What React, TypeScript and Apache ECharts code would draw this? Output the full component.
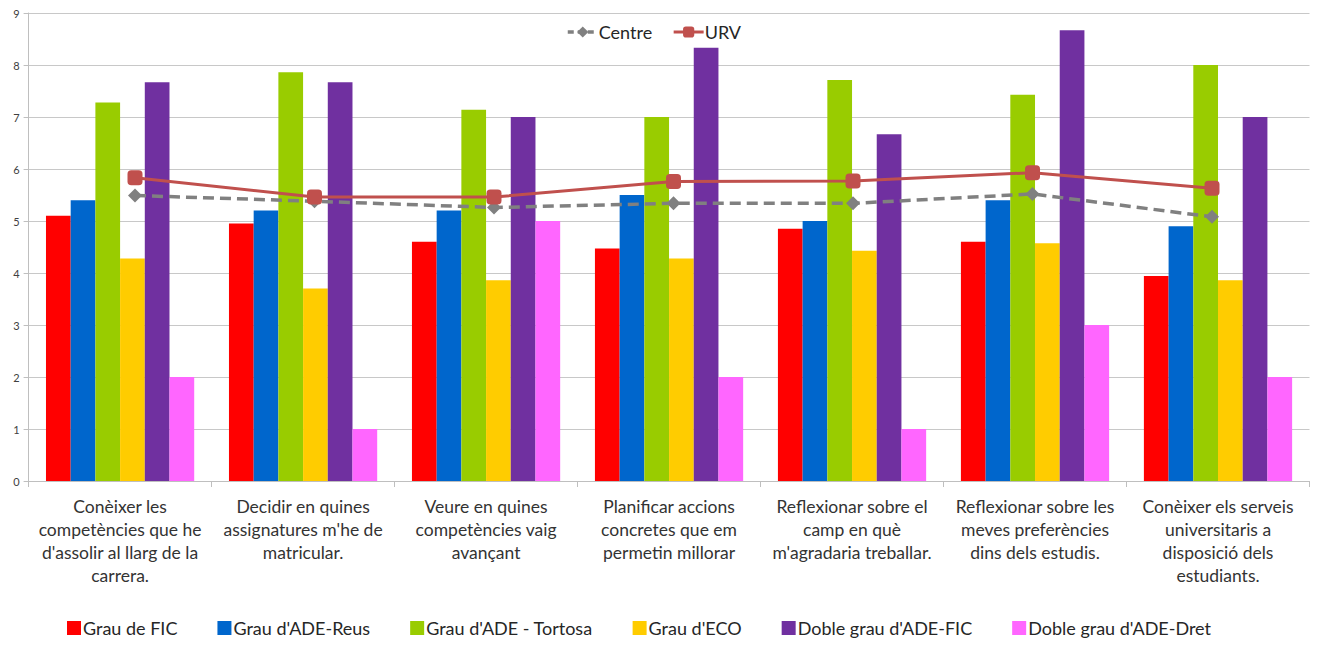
import React, { useEffect, useRef } from "react";
import * as echarts from "echarts";

const categories = [
  "Conèixer les\ncompetències que he\nd'assolir al llarg de la\ncarrera.",
  "Decidir en quines\nassignatures m'he de\nmatricular.",
  "Veure en quines\ncompetències vaig\navançant",
  "Planificar accions\nconcretes que em\npermetin millorar",
  "Reflexionar sobre el\ncamp en què\nm'agradaria treballar.",
  "Reflexionar sobre les\nmeves preferències\ndins dels estudis.",
  "Conèixer els serveis\nuniversitaris a\ndisposició dels\nestudiants.",
];

const grauFIC = [5.1, 4.95, 4.6, 4.47, 4.85, 4.6, 3.94];
const grauADEReus = [5.4, 5.2, 5.2, 5.5, 5.0, 5.4, 4.9];
const grauADETortosa = [7.28, 7.86, 7.14, 7.0, 7.71, 7.43, 8.0];
const grauECO = [4.28, 3.7, 3.86, 4.28, 4.43, 4.57, 3.86];
const dobleADEFIC = [7.67, 7.67, 7.0, 8.33, 6.67, 8.67, 7.0];
const dobleADEDret = [2, 1, 5, 2, 1, 3, 2];
const centre = [5.49, 5.38, 5.26, 5.34, 5.34, 5.52, 5.08];
const urv = [5.83, 5.46, 5.46, 5.76, 5.77, 5.93, 5.63];

const barNames = [
  "Grau de FIC",
  "Grau d'ADE-Reus",
  "Grau d'ADE - Tortosa",
  "Grau d'ECO",
  "Doble grau d'ADE-FIC",
  "Doble grau d'ADE-Dret",
];
const barData = [grauFIC, grauADEReus, grauADETortosa, grauECO, dobleADEFIC, dobleADEDret];
const barColors = ["#FF0000", "#0066CC", "#99CC00", "#FFCC00", "#7030A0", "#FF66FF"];

const FONT = "Lato, 'Open Sans', sans-serif";

export default function App() {
  const ref = useRef<HTMLDivElement>(null);
  useEffect(() => {
    document.body.style.margin = "0";
    if (!ref.current) return;
    const chart = echarts.init(ref.current, null, { renderer: "svg" });
    const gridTop = 13;
    const gridBottom = 165;
    chart.setOption({
      animation: false,
      textStyle: { fontFamily: FONT },
      legend: [
        {
          data: barNames,
          bottom: 4,
          left: 62,
          itemWidth: 14,
          itemHeight: 14,
          itemGap: 40,
          icon: "rect",
          textStyle: { fontSize: 18, color: "#262626", fontFamily: FONT, padding: [0, 0, 0, -3] },
        },
        {
          data: [
            { name: "Centre", lineStyle: { width: 3.5, color: "#808080", type: [6, 4] } },
            { name: "URV", lineStyle: { width: 3, color: "#C0504D" } },
          ],
          top: 18,
          left: 561,
          itemWidth: 30,
          itemHeight: 14,
          itemGap: 20,
          textStyle: { fontSize: 18, color: "#262626", fontFamily: FONT, padding: [0, 0, 0, -4] },
        },
      ],
      grid: [
        { left: 28.6, right: 8.5, top: gridTop, bottom: gridBottom },
        { left: 45.25, width: 1256.5, top: gridTop, bottom: gridBottom },
      ],
      xAxis: [
        {
          type: "category",
          data: categories,
          gridIndex: 0,
          axisLine: { lineStyle: { color: "#BFBFBF", width: 1 } },
          axisTick: { show: true, length: 6, lineStyle: { color: "#BFBFBF" } },
          axisLabel: {
            interval: 0,
            color: "#333333",
            fontSize: 17.5,
            lineHeight: 23,
            margin: 14,
            fontFamily: FONT,
          },
        },
        {
          type: "category",
          data: categories,
          gridIndex: 1,
          show: false,
        },
      ],
      yAxis: [
        {
          type: "value",
          gridIndex: 0,
          min: 0,
          max: 9,
          interval: 1,
          axisLine: { show: true, lineStyle: { color: "#BFBFBF" } },
          axisTick: { show: true, length: 5, lineStyle: { color: "#BFBFBF" } },
          axisLabel: { color: "#404040", fontSize: 11, margin: 9, fontFamily: FONT },
          splitLine: { lineStyle: { color: "#C8C8C8", width: 1 } },
        },
        {
          type: "value",
          gridIndex: 1,
          min: 0,
          max: 9,
          interval: 1,
          show: false,
          splitLine: { show: false },
        },
      ],
      series: [
        ...barNames.map((name, i) => ({
          name,
          type: "bar",
          xAxisIndex: 0,
          yAxisIndex: 0,
          data: barData[i],
          itemStyle: { color: barColors[i] },
          barGap: "0%",
          barCategoryGap: "19%",
        })),
        {
          name: "Centre",
          type: "line",
          xAxisIndex: 1,
          yAxisIndex: 1,
          data: centre,
          symbol: "diamond",
          symbolSize: 14,
          itemStyle: { color: "#808080" },
          lineStyle: { color: "#808080", width: 3.5, type: [11, 6] },
          z: 5,
        },
        {
          name: "URV",
          type: "line",
          xAxisIndex: 1,
          yAxisIndex: 1,
          data: urv,
          symbol: "roundRect",
          symbolSize: 15,
          itemStyle: { color: "#C0504D" },
          lineStyle: { color: "#C0504D", width: 3 },
          z: 6,
        },
      ],
    });
    return () => chart.dispose();
  }, []);
  return <div ref={ref} style={{ width: 1318, height: 646 }} />;
}
